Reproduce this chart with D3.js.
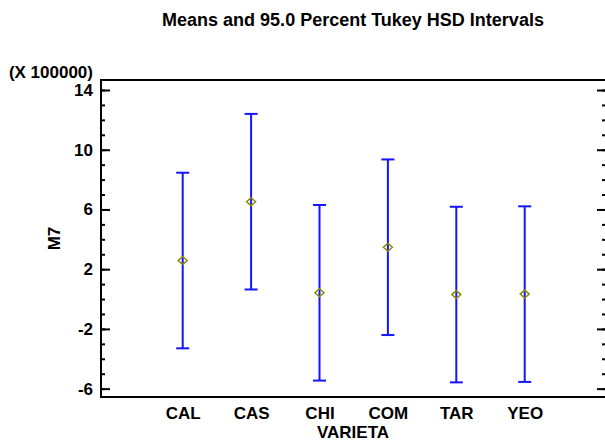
<!DOCTYPE html>
<html><head><meta charset="utf-8">
<script src="https://cdn.jsdelivr.net/npm/d3@7"></script>
<style>
body{margin:0;background:#fff}
text{font-family:"Liberation Sans",Arial,sans-serif;font-weight:bold;fill:#000}
</style>
</head><body><svg id="c" width="605" height="442"></svg>
<script>
const categories = ["CAL","CAS","CHI","COM","TAR","YEO"];
const means = [2.58, 6.52, 0.42, 3.47, 0.30, 0.33];
const lower = [-3.30, 0.64, -5.46, -2.41, -5.58, -5.55];
const upper = [8.46, 12.40, 6.30, 9.35, 6.18, 6.21];
const yMajorTicks = [-6, -2, 2, 6, 10, 14];
const yMinorTicks = d3.range(-6, 15);
const titleText = "Means and 95.0 Percent Tukey HSD Intervals";
const xTitle = "VARIETA";
const yTitle = "M7";
const yMultiplier = "(X 100000)";

const svg = d3.select("#c");
const L = 101, R = 606, T = 80, B = 397;
const y = d3.scaleLinear().domain([-6.56, 14.67]).range([B, T]);
const x = d3.scalePoint().domain(categories).range([182.7, 524.7]);

const data = categories.map((c, i) => ({c, m: means[i], lo: lower[i], hi: upper[i]}));

// frame
const frame = svg.append("g").attr("stroke", "#000").attr("stroke-width", 2).attr("fill", "none");
frame.append("line").attr("x1", L).attr("x2", R + 1).attr("y1", T).attr("y2", T);
frame.append("line").attr("x1", L).attr("x2", R + 1).attr("y1", B).attr("y2", B);
frame.append("line").attr("x1", L).attr("x2", L).attr("y1", T - 1).attr("y2", B + 1);
frame.append("line").attr("x1", R).attr("x2", R).attr("y1", T - 1).attr("y2", B + 1);

function styleAxis(g) {
  g.select(".domain").remove();
  g.selectAll(".tick line").attr("stroke", "#000").attr("stroke-width", 2);
  g.selectAll(".tick text").attr("font-size", 17).attr("font-family", "Liberation Sans, Arial, sans-serif").attr("font-weight", "bold");
}

svg.append("g").attr("transform", `translate(${L},0)`)
  .call(d3.axisLeft(y).tickValues(yMinorTicks).tickSize(-4).tickFormat(""))
  .call(styleAxis);
svg.append("g").attr("transform", `translate(${L},0)`)
  .call(d3.axisLeft(y).tickValues(yMajorTicks).tickSize(-9).tickPadding(8).tickFormat(d => String(d)))
  .call(styleAxis);
svg.append("g").attr("transform", `translate(${R},0)`)
  .call(d3.axisRight(y).tickValues(yMinorTicks).tickSize(-4).tickFormat(""))
  .call(styleAxis);
svg.append("g").attr("transform", `translate(${R},0)`)
  .call(d3.axisRight(y).tickValues(yMajorTicks).tickSize(-9).tickFormat(""))
  .call(styleAxis);

// category labels
svg.append("g").attr("transform", `translate(0,${B})`)
  .call(d3.axisBottom(x).tickSize(0).tickPadding(10))
  .call(g => { g.select(".domain").remove(); })
  .selectAll("text").attr("font-size", 17).attr("font-family", "Liberation Sans, Arial, sans-serif").attr("font-weight", "bold").attr("dy", "0.71em");

// error bars
const eb = svg.append("g").attr("stroke", "#1414ff").attr("stroke-width", 2);
eb.selectAll("line.v").data(data).join("line")
  .attr("x1", d => x(d.c)).attr("x2", d => x(d.c))
  .attr("y1", d => y(d.hi)).attr("y2", d => y(d.lo));
eb.selectAll("line.t").data(data).join("line")
  .attr("x1", d => x(d.c) - 6.5).attr("x2", d => x(d.c) + 6.5)
  .attr("y1", d => y(d.hi)).attr("y2", d => y(d.hi));
eb.selectAll("line.b").data(data).join("line")
  .attr("x1", d => x(d.c) - 6.5).attr("x2", d => x(d.c) + 6.5)
  .attr("y1", d => y(d.lo)).attr("y2", d => y(d.lo));

// means
svg.append("g").selectAll("path").data(data).join("path")
  .attr("d", d => { const cx = x(d.c), cy = y(d.m); return `M${cx},${cy-4}L${cx+4.5},${cy}L${cx},${cy+4}L${cx-4.5},${cy}Z`; })
  .attr("fill", "none").attr("stroke", "#8c8c00").attr("stroke-width", 1.5);

// texts
svg.append("text").attr("x", 353).attr("y", 26).attr("text-anchor", "middle").attr("font-size", 18).text(titleText);
svg.append("text").attr("x", 93).attr("y", 78).attr("text-anchor", "end").attr("font-size", 17).text(yMultiplier);
svg.append("text").attr("x", 353).attr("y", 438).attr("text-anchor", "middle").attr("font-size", 17).text(xTitle);
svg.append("text").attr("transform", `translate(60,${(T + B) / 2}) rotate(-90)`).attr("text-anchor", "middle").attr("font-size", 17).text(yTitle);
</script>
</body></html>
